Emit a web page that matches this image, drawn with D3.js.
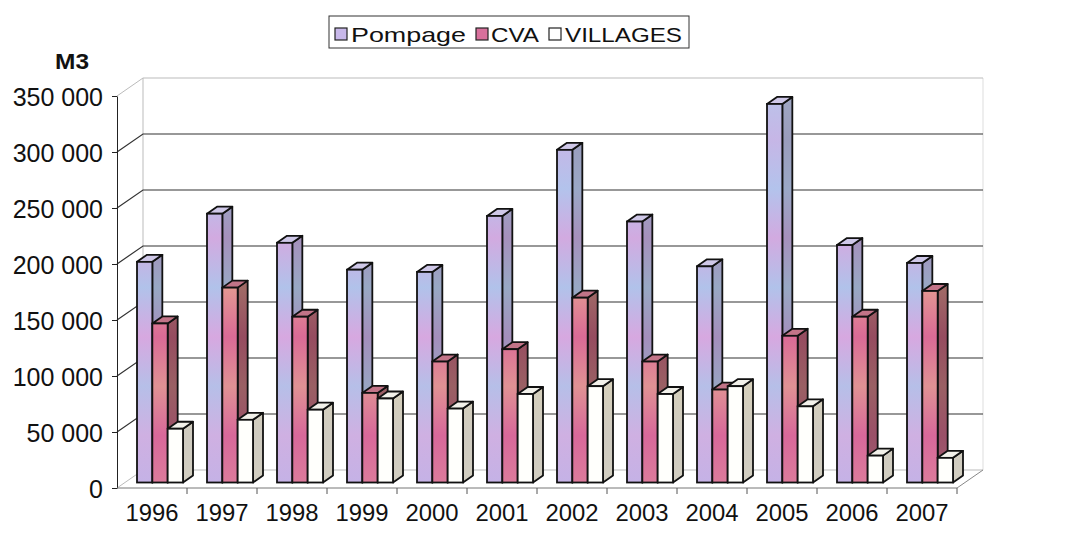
<!DOCTYPE html>
<html>
<head>
<meta charset="utf-8">
<script src="https://cdn.jsdelivr.net/npm/d3@7"></script>
<style>
  body { margin: 0; background: #fff; }
  text { font-family: "Liberation Sans", Arial, sans-serif; fill: #111; }
</style>
</head>
<body>
<div id="chart"></div>
<script>
(function () {

  var years = ['1996', '1997', '1998', '1999', '2000', '2001', '2002', '2003', '2004', '2005', '2006', '2007']
  var pompage = [197000, 240000, 214000, 190000, 188000, 238000, 297000, 233000, 193000, 338000, 212000, 196000]
  var cva = [142000, 174000, 148000, 80000, 108000, 119000, 165000, 108000, 83000, 131000, 148000, 171000]
  var villages = [48000, 56000, 65000, 75000, 66000, 79000, 86000, 79000, 86000, 68000, 24000, 22000]
  var seriesNames = ['Pompage', 'CVA', 'VILLAGES']
  var yTicks = [0, 50000, 100000, 150000, 200000, 250000, 300000, 350000]

  var width = 1072, height = 551

  // 3d offsets: wall depth and bar depth
  var depth = { dx: 26, dy: -18 }
  var barDepth = { dx: 10, dy: -7 }
  var barShift = { dx: 8, dy: -5.5 }

  var svg = d3.select("#chart")
    .append("svg")
    .attr("width", width)
    .attr("height", height)

  var xPositionScale = d3.scaleBand()
    .domain(years)
    .range([117, 957])
    .padding(0)

  var seriesScale = d3.scaleBand()
    .domain(seriesNames)
    .range([12, 58])
    .padding(0)

  var yPositionScale = d3.scaleLinear()
    .domain([0, 350000])
    .range([488, 96])

  var defs = svg.append("defs")

  function gradient(id, stops) {
    var g = defs.append("linearGradient")
      .attr("id", id)
      .attr("gradientUnits", "userSpaceOnUse")
      .attr("x1", 0).attr("x2", 0)
      .attr("y1", 90).attr("y2", 485)
    stops.forEach(function (s, i) {
      g.append("stop")
        .attr("offset", i / (stops.length - 1))
        .attr("stop-color", s)
    })
  }

  gradient("pomp-front", ['#b9c4ea', '#c6b6e6', '#b3c3ec', '#d2aae0', '#b1c2ea', '#d7a8e0', '#b6bfe8', '#cfb0e2', '#c4b2e6'])
  gradient("pomp-side", ['#a0a8c4', '#9a9cbc', '#9aa8c6', '#a690bc', '#98a8c4', '#a48ebc', '#98a4c2', '#a498c0', '#a8a0c4'])
  gradient("cva-front", ['#d876a4', '#dc6c9c', '#e08c98', '#d8628e', '#e49892', '#da6a96', '#e09294', '#d8689a', '#dc7c9c'])
  gradient("cva-side", ['#a45a78', '#984c64', '#9c5a5c', '#8e4858', '#a06a66', '#964c60', '#9a6064', '#9a5068', '#a06070'])
  gradient("vil-side", ['#d6d2c4', '#cfccc0', '#d8d2bc', '#c8c8bc', '#d4ccbc', '#cccabe', '#d6d0bc', '#cfcbc0', '#d2cec0'])

  var fills = {
    'Pompage': { front: 'url(#pomp-front)', side: 'url(#pomp-side)', top: '#cfc8e8' },
    'CVA': { front: 'url(#cva-front)', side: 'url(#cva-side)', top: '#c27488' },
    'VILLAGES': { front: '#fffffc', side: 'url(#vil-side)', top: '#f2f1ea' }
  }

  var legendFills = { 'Pompage': '#c8b8ea', 'CVA': '#d8709c', 'VILLAGES': '#ffffff' }

  // back wall and floor
  var backLeft = 117 + depth.dx
  var backRight = 957 + depth.dx

  svg.append("line")
    .attr("x1", backLeft).attr("x2", backLeft)
    .attr("y1", yPositionScale(350000) + depth.dy)
    .attr("y2", yPositionScale(0) + depth.dy)
    .attr("stroke", "#bbb")

  svg.append("line")
    .attr("x1", backRight).attr("x2", backRight)
    .attr("y1", yPositionScale(350000) + depth.dy)
    .attr("y2", yPositionScale(0) + depth.dy)
    .attr("stroke", "#ddd")

  svg.selectAll(".grid")
    .data(yTicks)
    .enter().append("polyline")
    .attr("class", "grid")
    .attr("points", function (d) {
      var y = yPositionScale(d)
      return [117, y, backLeft, y + depth.dy, backRight, y + depth.dy].join(" ")
    })
    .attr("fill", "none")
    .attr("stroke", function (d) {
      return (d === 0 || d === 350000) ? '#bbb' : '#333'
    })
    .attr("stroke-width", function (d) {
      return (d === 0 || d === 350000) ? 1 : 1.2
    })

  // floor right edge
  svg.append("line")
    .attr("x1", 957).attr("y1", yPositionScale(0))
    .attr("x2", backRight).attr("y2", yPositionScale(0) + depth.dy)
    .attr("stroke", "#888")

  // bars
  var bars = []
  years.forEach(function (year, i) {
    bars.push({ year: year, series: 'Pompage', value: pompage[i] })
    bars.push({ year: year, series: 'CVA', value: cva[i] })
    bars.push({ year: year, series: 'VILLAGES', value: villages[i] })
  })

  var barG = svg.selectAll(".bar")
    .data(bars)
    .enter().append("g")
    .attr("class", "bar")

  function corners(d) {
    var x0 = xPositionScale(d.year) + seriesScale(d.series) + barShift.dx
    var x1 = x0 + seriesScale.bandwidth()
    var yt = yPositionScale(d.value) + barShift.dy
    var yb = yPositionScale(0) + barShift.dy
    return { x0: x0, x1: x1, yt: yt, yb: yb }
  }

  barG.append("polygon")
    .attr("points", function (d) {
      var c = corners(d)
      return [c.x1, c.yt, c.x1 + barDepth.dx, c.yt + barDepth.dy,
        c.x1 + barDepth.dx, c.yb + barDepth.dy, c.x1, c.yb].join(" ")
    })
    .attr("fill", function (d) { return fills[d.series].side })
    .attr("stroke", "#111")
    .attr("stroke-width", 1.8)
    .attr("stroke-linejoin", "round")

  barG.append("polygon")
    .attr("points", function (d) {
      var c = corners(d)
      return [c.x0, c.yt, c.x1, c.yt, c.x1 + barDepth.dx, c.yt + barDepth.dy,
        c.x0 + barDepth.dx, c.yt + barDepth.dy].join(" ")
    })
    .attr("fill", function (d) { return fills[d.series].top })
    .attr("stroke", "#111")
    .attr("stroke-width", 1.8)
    .attr("stroke-linejoin", "round")

  barG.append("rect")
    .attr("x", function (d) { return corners(d).x0 })
    .attr("y", function (d) { return corners(d).yt })
    .attr("width", seriesScale.bandwidth())
    .attr("height", function (d) { var c = corners(d); return c.yb - c.yt })
    .attr("fill", function (d) { return fills[d.series].front })
    .attr("stroke", "#111")
    .attr("stroke-width", 1.8)

  // y axis
  var yAxis = d3.axisLeft(yPositionScale)
    .tickValues(yTicks)
    .tickSize(5)
    .tickSizeOuter(0)
    .tickPadding(9)
    .tickFormat(function (d) { return d3.format(",")(d).replace(/,/g, " ") })

  var yAxisG = svg.append("g")
    .attr("class", "axis y-axis")
    .attr("transform", "translate(117,0)")
    .call(yAxis)

  yAxisG.select(".domain").attr("stroke", "#222")
  yAxisG.selectAll(".tick line").attr("stroke", "#222")
  yAxisG.selectAll(".tick text")
    .attr("font-size", "25px")
    .attr("font-family", "Liberation Sans, Arial, sans-serif")
    .attr("fill", "#111")
    .attr("dy", "0.36em")

  // x axis
  svg.append("line")
    .attr("x1", 117).attr("x2", 957)
    .attr("y1", yPositionScale(0)).attr("y2", yPositionScale(0))
    .attr("stroke", "#777")

  svg.selectAll(".x-tick")
    .data(years.slice(1).concat(['end']))
    .enter().append("line")
    .attr("class", "x-tick")
    .attr("x1", function (d) { return d === 'end' ? 957 : xPositionScale(d) })
    .attr("x2", function (d) { return d === 'end' ? 957 : xPositionScale(d) })
    .attr("y1", yPositionScale(0))
    .attr("y2", yPositionScale(0) + 6)
    .attr("stroke", "#555")

  svg.selectAll(".x-label")
    .data(years)
    .enter().append("text")
    .attr("class", "x-label")
    .text(function (d) { return d })
    .attr("x", function (d) { return xPositionScale(d) + xPositionScale.bandwidth() / 2 })
    .attr("y", 521)
    .attr("text-anchor", "middle")
    .attr("font-size", "23px")
    .attr("textLength", 53)
    .attr("lengthAdjust", "spacingAndGlyphs")

  svg.append("text")
    .text("M3")
    .attr("x", 55)
    .attr("y", 69)
    .attr("font-size", "22px")
    .attr("font-weight", "bold")
    .attr("textLength", 34)
    .attr("lengthAdjust", "spacingAndGlyphs")

  // legend
  var legend = svg.append("g").attr("class", "legend")

  legend.append("rect")
    .attr("x", 329).attr("y", 16)
    .attr("width", 360).attr("height", 32)
    .attr("fill", "#fff")
    .attr("stroke", "#333")

  var legendX = { 'Pompage': 335, 'CVA': 476, 'VILLAGES': 549 }
  var legendTextX = { 'Pompage': 351, 'CVA': 491, 'VILLAGES': 565 }
  var legendW = { 'Pompage': 115, 'CVA': 48, 'VILLAGES': 117 }

  legend.selectAll(".swatch")
    .data(seriesNames)
    .enter().append("rect")
    .attr("class", "swatch")
    .attr("x", function (d) { return legendX[d] })
    .attr("y", 28)
    .attr("width", 12).attr("height", 12)
    .attr("fill", function (d) { return legendFills[d] })
    .attr("stroke", "#222")
    .attr("stroke-width", 1.2)

  legend.selectAll(".legend-text")
    .data(seriesNames)
    .enter().append("text")
    .attr("class", "legend-text")
    .text(function (d) { return d })
    .attr("x", function (d) { return legendTextX[d] })
    .attr("y", 42)
    .attr("font-size", "21px")
    .attr("textLength", function (d) { return legendW[d] })
    .attr("lengthAdjust", "spacingAndGlyphs")

})()
</script>
</body>
</html>
